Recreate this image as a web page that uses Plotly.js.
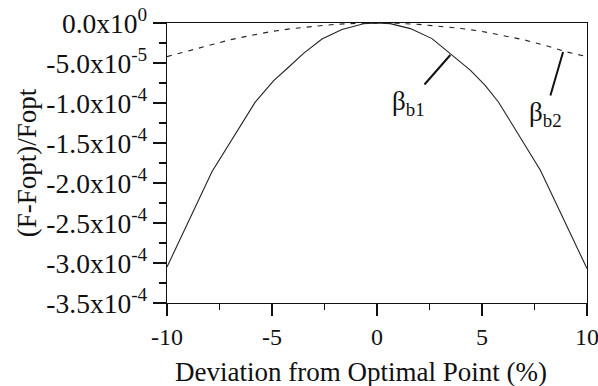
<!DOCTYPE html>
<html>
<head>
<meta charset="utf-8">
<script src="https://cdn.plot.ly/plotly-3.0.1.min.js"></script>
<style>
  html, body { margin: 0; padding: 0; background: #fff; }
  #chart { width: 598px; height: 386px; }
</style>
</head>
<body>
<div id="chart"></div>
<script>
// Series beta_b1 (solid)
const xB1 = [-10, -7.86, -5.8, -4.92, -4.2, -3.5, -2.62, -1.67, -0.64, 0, 0.63, 1.59, 2.62, 3.49, 4.44, 5.15, 5.79, 7.78, 10];
const yB1 = [-3.05e-4, -1.86e-4, -0.99e-4, -0.72e-4, -0.55e-4, -0.38e-4, -0.20e-4, -0.08e-4, -0.01e-4, 0,
             -0.008e-4, -0.07e-4, -0.195e-4, -0.38e-4, -0.59e-4, -0.78e-4, -0.99e-4, -1.84e-4, -3.07e-4];
// Series beta_b2 (dashed)
const xB2 = [-10, -9, -8, -7, -6, -5, -4, -3, -2, -1, 0, 1, 2, 3, 4, 5, 6, 7, 8, 9, 10];
const yB2 = [-0.42e-4, -0.35e-4, -0.28e-4, -0.21e-4, -0.155e-4, -0.105e-4, -0.068e-4, -0.038e-4, -0.017e-4, -0.004e-4, 0,
             -0.004e-4, -0.017e-4, -0.038e-4, -0.068e-4, -0.105e-4, -0.155e-4, -0.21e-4, -0.28e-4, -0.36e-4, -0.42e-4];
// Tick labels
const yTickVals = [0, -0.5e-4, -1.0e-4, -1.5e-4, -2.0e-4, -2.5e-4, -3.0e-4, -3.5e-4];
const yTickText = ['0.0x10<sup>0</sup>', '-5.0x10<sup>-5</sup>', '-1.0x10<sup>-4</sup>', '-1.5x10<sup>-4</sup>',
                   '-2.0x10<sup>-4</sup>', '-2.5x10<sup>-4</sup>', '-3.0x10<sup>-4</sup>', '-3.5x10<sup>-4</sup>'];
const xTickVals = [-10, -5, 0, 5, 10];
const xTickText = ['-10', '-5', '0', '5', '10'];
// Titles
const xTitle = 'Deviation from Optimal Point (%)';
const yTitle = '(F-Fopt)/Fopt';
// Labels for the two curves
const labelB1 = {text: 'β<sub>b1</sub>', x: 3.49, y: -0.40e-4};
const labelB2 = {text: 'β<sub>b2</sub>', x: 8.86, y: -0.3625e-4};

const serif = 'Liberation Serif';
const ink = '#111';

const traces = [
  {x: xB1, y: yB1, type: 'scatter', mode: 'lines', line: {color: '#222', width: 1.1}, hoverinfo: 'skip'},
  {x: xB2, y: yB2, type: 'scatter', mode: 'lines', line: {color: '#222', width: 1.1, dash: '5px,6px'}, hoverinfo: 'skip'}
];

const layout = {
  width: 598, height: 386,
  margin: {l: 167, r: 11, t: 23, b: 83},
  paper_bgcolor: '#fff', plot_bgcolor: '#fff',
  showlegend: false,
  font: {family: serif, color: ink},
  xaxis: {
    range: [-10, 10], tickvals: xTickVals, ticktext: xTickText,
    ticks: 'outside', ticklen: 12, tickwidth: 1.3, tickcolor: ink,
    minor: {dtick: 2.5, ticks: 'outside', ticklen: 6, tickwidth: 1.3, tickcolor: ink, showgrid: false},
    showline: true, linecolor: ink, linewidth: 1.3, mirror: true,
    showgrid: false, zeroline: false, ticklabeloverflow: 'allow',
    tickfont: {family: serif, size: 24, color: ink}
  },
  yaxis: {
    range: [-3.5e-4, 0], tickvals: yTickVals, ticktext: yTickText,
    ticks: 'outside', ticklen: 13, tickwidth: 1.3, tickcolor: ink,
    minor: {dtick: 0.25e-4, tick0: 0, ticks: 'outside', ticklen: 7, tickwidth: 1.3, tickcolor: ink, showgrid: false},
    showline: true, linecolor: ink, linewidth: 1.3, mirror: true,
    showgrid: false, zeroline: false, ticklabeloverflow: 'allow',
    tickfont: {family: serif, size: 27.5, color: ink},
    title: {text: yTitle, font: {family: serif, size: 27, color: ink}, standoff: 2}
  },
  annotations: [
    {xref: 'paper', yref: 'paper', x: 0.463, y: -0.248, xanchor: 'center', yanchor: 'middle', showarrow: false,
     text: xTitle, font: {family: serif, size: 27, color: ink}},
    {x: labelB1.x, y: labelB1.y, xref: 'x', yref: 'y', text: labelB1.text, showarrow: true, arrowhead: 0,
     arrowwidth: 2, arrowcolor: ink, ax: -42, ay: 48, font: {family: serif, size: 27, color: ink}},
    {x: labelB2.x, y: labelB2.y, xref: 'x', yref: 'y', text: labelB2.text, showarrow: true, arrowhead: 0,
     arrowwidth: 2, arrowcolor: ink, ax: -18, ay: 62, font: {family: serif, size: 27, color: ink}}
  ]
};

Plotly.newPlot('chart', traces, layout, {staticPlot: true, displayModeBar: false});
</script>
</body>
</html>
